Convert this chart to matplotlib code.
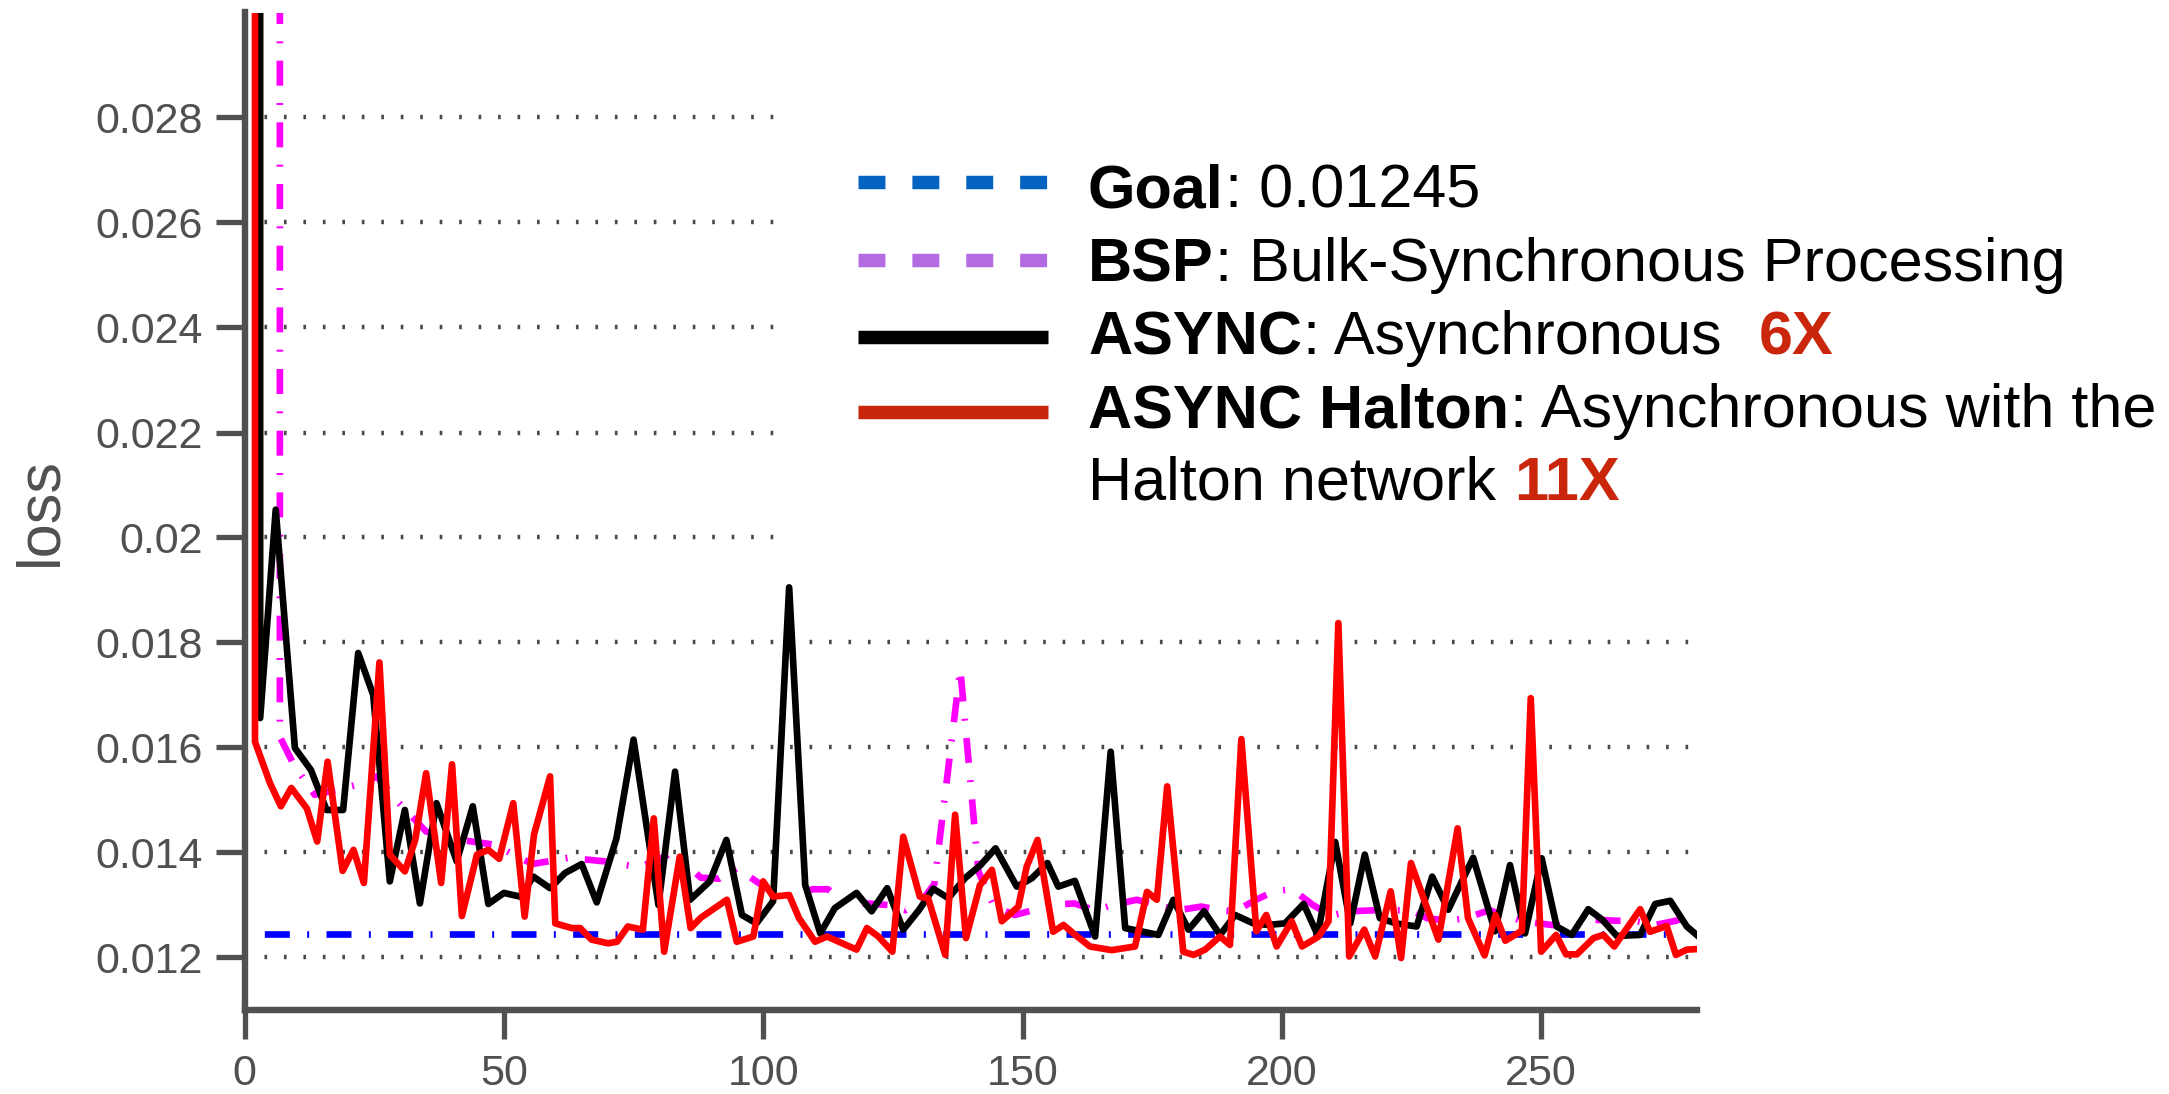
import matplotlib
matplotlib.use("Agg")
import matplotlib.pyplot as plt
from matplotlib.lines import Line2D
from matplotlib.patches import Rectangle

# ---------------- data ----------------
goal_x = [0, 275]
goal_y = [0.01245, 0.01245]

bsp_x = [6.8, 6.8, 9.5, 13.5, 18, 23, 25.5, 29.5, 35, 41, 48, 55.5, 62.5, 69.5, 76, 79.5,
         82.5, 88, 91.5, 95, 98.5, 102.5, 106, 109.5, 112.5, 116, 120, 124, 127.5, 130.5,
         133, 138, 141.5, 144.5, 148.5, 152, 155, 160, 164, 167.5, 172, 176, 180, 184.5,
         188, 191, 195, 198.5, 202, 206, 209.5, 213, 218, 221.5, 225, 228, 232, 235.5,
         240, 243, 246.5, 252, 256, 260, 264.5, 268, 272, 276, 279]
bsp_y = [0.06, 0.0162, 0.01567, 0.0151, 0.0152, 0.01532, 0.01545, 0.01497, 0.0144, 0.01425,
         0.01415, 0.01378, 0.0139, 0.01383, 0.01372, 0.01385, 0.0140, 0.01352, 0.0135, 0.0137,
         0.01346, 0.0132, 0.01316, 0.0133, 0.0133, 0.01303, 0.01303, 0.0130, 0.0129, 0.01307,
         0.0134, 0.0175, 0.01364, 0.01297, 0.01281, 0.0129, 0.0130, 0.01303, 0.0129, 0.0130,
         0.0131, 0.0130, 0.0129, 0.01297, 0.0129, 0.01288, 0.0131, 0.01326, 0.0133, 0.0130,
         0.0128, 0.01288, 0.0129, 0.0129, 0.0129, 0.01275, 0.0127, 0.01275, 0.0129, 0.0128,
         0.01269, 0.01262, 0.0126, 0.01272, 0.0127, 0.0127, 0.01262, 0.0127, 0.0128]

async_x = [3.0, 3.0, 6.0, 9.7, 12.8, 15.8, 19.0, 21.9, 24.8, 28.0, 30.9, 33.8, 37.0, 40.9,
           44.0, 47.0, 50.0, 53.1, 55.7, 58.9, 61.8, 65.0, 67.9, 71.7, 75.0, 79.8, 83.0,
           85.9, 89.7, 92.9, 95.9, 98.7, 101.9, 105.0, 108.1, 111.0, 113.8, 118.0, 120.9,
           123.9, 127.0, 130.0, 132.8, 135.7, 138.9, 141.9, 144.8, 148.9, 151.8, 154.8,
           156.9, 160.1, 164.0, 167.0, 169.8, 172.8, 176.2, 179.1, 182.0, 185.0, 188.1,
           191.0, 194.5, 197.4, 200.6, 204.2, 206.9, 210.3, 213.2, 216.0, 218.9, 222.0,
           226.0, 229.0, 232.1, 236.9, 241.1, 244.0, 246.9, 250.1, 253.0, 255.9, 259.1,
           261.8, 264.6, 269.1, 272.0, 274.9, 278.1, 280.0]
async_y = [0.06, 0.01656, 0.02053, 0.01599, 0.01557, 0.01481, 0.01481, 0.0178, 0.0170,
           0.01345, 0.01481, 0.01303, 0.01494, 0.01383, 0.01488, 0.01302, 0.01323, 0.01316,
           0.01354, 0.01332, 0.01361, 0.01378, 0.01305, 0.01427, 0.01615, 0.0130, 0.01554,
           0.0131, 0.01345, 0.01424, 0.01281, 0.01265, 0.01307, 0.01905, 0.01338, 0.01246,
           0.01294, 0.01323, 0.01288, 0.01332, 0.01253, 0.0129, 0.01331, 0.01313, 0.01351,
           0.01376, 0.01408, 0.01335, 0.01351, 0.0138, 0.01335, 0.01346, 0.0124, 0.01592,
           0.01256, 0.0125, 0.01243, 0.0131, 0.01253, 0.01288, 0.01243, 0.01281, 0.01265,
           0.01262, 0.01265, 0.01302, 0.01243, 0.0142, 0.01265, 0.01396, 0.01275, 0.01265,
           0.01259, 0.01354, 0.01291, 0.0139, 0.0125, 0.01376, 0.01246, 0.01389, 0.01259,
           0.01243, 0.01292, 0.01272, 0.01241, 0.01243, 0.01302, 0.01308, 0.01259, 0.01243]

halton_x = [2.0, 2.0, 4.9, 7.0, 9.0, 12.0, 14.0, 16.0, 18.9, 21.0, 23.0, 26.0, 28.0, 30.9,
            32.9, 35.0, 37.9, 40.0, 41.9, 44.8, 47.0, 49.1, 51.8, 54.0, 55.8, 58.9, 59.9,
            63.1, 64.7, 66.9, 70.1, 71.8, 73.9, 76.8, 78.9, 80.9, 83.9, 86.0, 88.0, 93.0,
            94.9, 98.1, 100.0, 101.9, 105.0, 106.9, 110.0, 112.3, 118.0, 120.0, 122.2,
            124.9, 127.0, 130.2, 131.8, 135.1, 137.0, 139.1, 141.8, 144.1, 146.0, 149.2,
            150.8, 152.9, 155.9, 157.9, 159.8, 163.0, 167.2, 171.7, 174.0, 175.9, 177.9,
            181.0, 183.0, 185.2, 188.1, 190.0, 192.2, 195.1, 197.0, 199.0, 201.9, 203.9,
            207.1, 209.0, 210.9, 213.0, 215.9, 218.0, 221.0, 223.0, 224.9, 230.2, 233.9,
            235.9, 239.1, 241.2, 243.1, 246.3, 248.0, 250.0, 252.9, 254.8, 256.9, 260.1,
            262.0, 264.1, 269.1, 271.0, 274.2, 276.0, 278.1, 280.0]
halton_y = [0.06, 0.01611, 0.01532, 0.01488, 0.01523, 0.01484, 0.01421, 0.01573, 0.01365,
            0.01405, 0.01342, 0.01762, 0.01396, 0.01364, 0.01424, 0.01551, 0.01342, 0.01568,
            0.01279, 0.01396, 0.01405, 0.01388, 0.01494, 0.01278, 0.01434, 0.01545, 0.01265,
            0.01256, 0.01256, 0.01234, 0.01227, 0.0123, 0.01259, 0.01253, 0.01465, 0.01211,
            0.01392, 0.01256, 0.01276, 0.0131, 0.0123, 0.0124, 0.01345, 0.01316, 0.01319,
            0.01275, 0.0123, 0.0124, 0.01215, 0.01256, 0.0124, 0.01211, 0.0143, 0.01316,
            0.01313, 0.01205, 0.01472, 0.01237, 0.01338, 0.01367, 0.01269, 0.01297, 0.01373,
            0.01424, 0.01249, 0.01262, 0.01246, 0.01221, 0.01214, 0.01221, 0.01325, 0.0131,
            0.01526, 0.01211, 0.01205, 0.01215, 0.0124, 0.01224, 0.01616, 0.0125, 0.01281,
            0.01221, 0.01269, 0.01221, 0.0124, 0.01269, 0.01837, 0.01202, 0.01253, 0.01202,
            0.01326, 0.01199, 0.0138, 0.01234, 0.01446, 0.01275, 0.01204, 0.01281, 0.01232,
            0.01251, 0.01694, 0.01211, 0.01243, 0.01206, 0.01206, 0.01237, 0.01243, 0.01221,
            0.01292, 0.01249, 0.0126, 0.01205, 0.01215, 0.01216]

yticks = [0.012, 0.014, 0.016, 0.018, 0.020, 0.022, 0.024, 0.026, 0.028]
ytick_labels = ["0.012", "0.014", "0.016", "0.018", "0.02", "0.022", "0.024", "0.026", "0.028"]
xticks = [0, 50, 100, 150, 200, 250]
xtick_labels = ["0", "50", "100", "150", "200", "250"]

legend_rows = [
    [("Goal", "bold", "black", 1), (": 0.01245", "normal", "black", 0)],
    [("BSP", "bold", "black", 1), (": Bulk-Synchronous Processing", "normal", "black", 0)],
    [("ASYNC", "bold", "black", 1), (": Asynchronous", "normal", "black", 37),
     ("6X", "bold", "#c9260c", 0)],
    [("ASYNC Halton", "bold", "black", 1), (": Asynchronous with the", "normal", "black", 0)],
    [("Halton network", "normal", "black", 18), ("11X", "bold", "#c9260c", 0)],
]

# ---------------- figure ----------------
W, H, DPI = 2169, 1094, 100
plt.rcParams["font.family"] = ["Liberation Sans", "DejaVu Sans"]

fig = plt.figure(figsize=(W / DPI, H / DPI), dpi=DPI)
L, R, T, B = 244.6, 1696.7, 12.5, 1010.0
ax = fig.add_axes([L / W, 1 - B / H, (R - L) / W, (B - T) / H])

GRAY = "#505050"
LW = 4.8
ax.plot(goal_x, goal_y, color="#0000ff", lw=LW, linestyle=(0, (0.3, 2.6, 3.75, 2.6)),
        dash_capstyle="butt", zorder=2)
ax.plot(bsp_x, bsp_y, color="#ff00ff", lw=LW, linestyle=(0, (3.75, 2.6, 0.3, 2.6)),
        dash_capstyle="butt", zorder=2.1)
ax.plot(async_x, async_y, color="black", lw=LW, solid_joinstyle="round", zorder=2.2)
ax.plot(halton_x, halton_y, color="#ff0000", lw=LW, solid_joinstyle="round", zorder=2.3)

ax.set_xlim(0, 280)
ax.set_ylim(0.011, 0.030)
ax.set_xticks(xticks)
ax.set_xticklabels(xtick_labels)
ax.set_yticks(yticks)
ax.set_yticklabels(ytick_labels)

for s in ["top", "right"]:
    ax.spines[s].set_visible(False)
for s in ["left", "bottom"]:
    ax.spines[s].set_color(GRAY)
    ax.spines[s].set_linewidth(4.6)

ax.tick_params(axis="both", direction="out", length=21, width=3.8, color=GRAY,
               labelsize=31, labelcolor=GRAY)
ax.tick_params(axis="y", pad=9)
ax.tick_params(axis="x", pad=11)

ax.yaxis.grid(True, linestyle=(0, (0.6, 3.78)), linewidth=3.2, color="#4a4a4a")
ax.xaxis.grid(False)

ax.set_ylabel("loss", fontsize=44, color=GRAY)
ax.yaxis.set_label_coords(-0.121, 0.5)

# white legend background (hides grid behind legend)
rect = Rectangle((775 / W, 1 - 560 / H), (W - 775) / W, 560 / H, transform=fig.transFigure,
                 facecolor="white", edgecolor="none", zorder=1.8, clip_on=False)
ax.add_artist(rect)

# ---------------- legend (manual) ----------------
def fx(px):
    return px / W

def fy(py):
    return 1 - py / H

handles = [
    (181.5, "#0563c1", (0, (2.0, 2.0))),
    (260.0, "#b36be2", (0, (2.0, 2.0))),
    (337.0, "black", "-"),
    (412.0, "#c9260c", "-"),
]
for yy, col, ls in handles:
    fig.add_artist(Line2D([fx(858), fx(1048)], [fy(yy), fy(yy)], transform=fig.transFigure,
                          color=col, lw=9.7, linestyle=ls, solid_capstyle="butt",
                          dash_capstyle="butt"))

renderer = fig.canvas.get_renderer()
baselines = [208, 281.5, 354.3, 427.3, 499.8]
LEG_FS = 44
for base, pieces in zip(baselines, legend_rows):
    x = 1088.0
    for txt, weight, col, gap in pieces:
        t = fig.text(fx(x), fy(base), txt, fontsize=LEG_FS, fontweight=weight, color=col,
                     ha="left", va="baseline")
        bb = t.get_window_extent(renderer)
        x = bb.x1 + gap

fig.savefig("out.png", dpi=DPI, facecolor="white")
